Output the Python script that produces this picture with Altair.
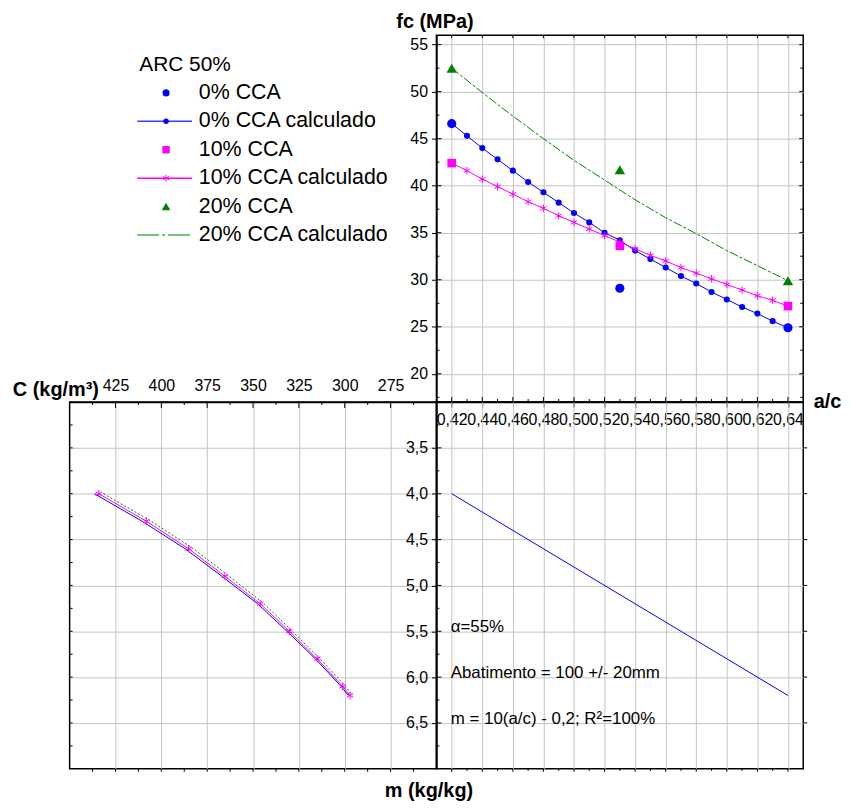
import altair as alt
import pandas as pd

FONT = "Liberation Sans"
BLUE, MAGENTA, GREEN = "#0000ff", "#ff00ff", "#008000"
GRID = "#c4c4c4"
W = H = 369
ASTERISK = "M0,-1L0,1M-0.87,-0.5L0.87,0.5M-0.87,0.5L0.87,-0.5"

# ---------------- data: fc x a/c (top-right)
ac_measured = [0.42, 0.53, 0.64]
fc_measured_0 = [46.6, 29.1, 24.9]
fc_measured_10 = [42.4, 33.6, 27.2]
fc_measured_20 = [52.5, 41.7, 29.9]

ac_calc = [0.42, 0.43, 0.44, 0.45, 0.46, 0.47, 0.48, 0.49, 0.50, 0.51, 0.52, 0.53,
           0.54, 0.55, 0.56, 0.57, 0.58, 0.59, 0.60, 0.61, 0.62, 0.63, 0.64]
fc_calc_0 = [46.6, 45.3, 44.0, 42.8, 41.6, 40.4, 39.3, 38.2, 37.1, 36.1, 35.0, 34.2,
             33.1, 32.2, 31.3, 30.4, 29.6, 28.7, 27.9, 27.1, 26.4, 25.6, 24.9]
fc_calc_10 = [42.4, 41.6, 40.7, 39.9, 39.1, 38.3, 37.6, 36.8, 36.1, 35.4, 34.7, 34.0,
              33.3, 32.6, 32.0, 31.3, 30.7, 30.1, 29.5, 28.9, 28.3, 27.8, 27.2]
ac_calc_20 = [0.42, 0.44, 0.46, 0.48, 0.50, 0.52, 0.54, 0.56, 0.58, 0.60, 0.62, 0.64]
fc_calc_20 = [52.5, 49.9, 47.4, 45.0, 42.7, 40.6, 38.5, 36.6, 34.9, 33.1, 31.5, 29.9]

# ---------------- data: m x a/c (bottom-right)
ac_line = [0.42, 0.64]
m_line = [4.0, 6.2]
notes = ["α=55%", "Abatimento = 100 +/- 20mm", "m = 10(a/c) - 0,2; R²=100%"]
notes_ac = [0.42, 0.42, 0.42]
notes_m = [5.5, 6.0, 6.5]

# ---------------- data: C x m (bottom-left)
m_curve = [4.0, 4.3, 4.6, 4.9, 5.2, 5.5, 5.8, 6.1, 6.2]
c_curve_0 = [436.5, 410.5, 387.0, 367.0, 347.5, 331.5, 316.0, 302.0, 298.0]
c_curve_10 = [434.1, 408.2, 385.1, 365.3, 346.1, 330.2, 315.0, 301.1, 297.1]
c_curve_20 = [431.5, 405.5, 382.5, 363.0, 344.0, 328.5, 313.5, 299.5, 295.8]

# ---------------- axes ticks
ac_ticks = [0.42, 0.44, 0.46, 0.48, 0.50, 0.52, 0.54, 0.56, 0.58, 0.60, 0.62, 0.64]
ac_minor = [0.43, 0.45, 0.47, 0.49, 0.51, 0.53, 0.55, 0.57, 0.59, 0.61, 0.63]
fc_ticks = [20, 25, 30, 35, 40, 45, 50, 55]
fc_minor = [17.5, 22.5, 27.5, 32.5, 37.5, 42.5, 47.5, 52.5]
m_ticks = [3.5, 4.0, 4.5, 5.0, 5.5, 6.0, 6.5]
m_minor = [3.25, 3.75, 4.25, 4.75, 5.25, 5.75, 6.25, 6.75]
c_ticks = [275, 300, 325, 350, 375, 400, 425]
c_minor = [262.5, 287.5, 312.5, 337.5, 362.5, 387.5, 412.5, 437.5]

# ---------------- legend
legend_title = "ARC 50%"
legend_labels = ["0% CCA", "0% CCA calculado", "10% CCA", "10% CCA calculado",
                 "20% CCA", "20% CCA calculado"]

AX = dict(labelFont=FONT, labelFontSize=16, labelColor="black", titleFont=FONT,
          titleFontSize=20, titleFontWeight="bold", titleColor="black",
          domainColor="black", domainWidth=1.5, tickColor="black", tickWidth=1,
          tickSize=5, gridColor=GRID, gridWidth=1, gridOpacity=1)
GRIDONLY = dict(grid=True, labels=False, ticks=False, domain=False,
                gridColor=GRID, gridWidth=1, gridOpacity=1)

ac_scale = alt.Scale(domain=[0.41, 0.65], nice=False, zero=False)
fc_scale = alt.Scale(domain=[17, 56], nice=False, zero=False)
m_scale = alt.Scale(domain=[3, 7], nice=False, zero=False, reverse=True)
c_scale = alt.Scale(domain=[250, 450], nice=False, zero=False, reverse=True)

comma2 = "replace(format(datum.value, '.2f'), '.', ',')"
comma1 = "replace(format(datum.value, '.1f'), '.', ',')"


def hticks(values, field, enc_y, x0, x1):
    return alt.Chart(pd.DataFrame({field: values})).mark_rule(
        color="black", strokeWidth=1).encode(y=enc_y, x=alt.value(x0), x2=alt.value(x1))


def vticks(values, field, enc_x, y0, y1):
    return alt.Chart(pd.DataFrame({field: values})).mark_rule(
        color="black", strokeWidth=1).encode(x=enc_x, y=alt.value(y0), y2=alt.value(y1))


# ================= top-right
x_ac_tr = alt.X("ac:Q", scale=ac_scale, axis=alt.Axis(
    orient="bottom", values=ac_ticks, grid=True, labelExpr=comma2,
    labelOverlap=False, labelFlush=False, labelPadding=5,
    title="a/c", titleAngle=0, titleX=379, titleY=6, titleAlign="left",
    titleBaseline="alphabetic", **AX))
y_fc = alt.Y("fc:Q", scale=fc_scale, axis=alt.Axis(
    orient="left", values=fc_ticks, grid=True, format="d", labelPadding=4,
    labelFlush=False, title="fc (MPa)", titleAngle=0, titleX=-2, titleY=-8,
    titleAlign="center", titleBaseline="alphabetic", **AX))

df_c0 = pd.DataFrame({"ac": ac_calc, "fc": fc_calc_0})
df_c10 = pd.DataFrame({"ac": ac_calc, "fc": fc_calc_10})
df_c20 = pd.DataFrame({"ac": ac_calc_20, "fc": fc_calc_20})
df_m0 = pd.DataFrame({"ac": ac_measured, "fc": fc_measured_0})
df_m10 = pd.DataFrame({"ac": ac_measured, "fc": fc_measured_10})
df_m20 = pd.DataFrame({"ac": ac_measured, "fc": fc_measured_20})

enc_tr = dict(x=x_ac_tr, y=y_fc)
tr = alt.layer(
    alt.Chart(df_c20).mark_line(color=GREEN, strokeWidth=1, strokeDash=[9, 2, 3, 2]).encode(**enc_tr),
    alt.Chart(df_c0).mark_line(color=BLUE, strokeWidth=1).encode(**enc_tr),
    alt.Chart(df_c0).mark_point(filled=True, shape="circle", size=38, color=BLUE, opacity=1).encode(**enc_tr),
    alt.Chart(df_c10).mark_line(color=MAGENTA, strokeWidth=1).encode(**enc_tr),
    alt.Chart(df_c10).mark_point(filled=False, shape=ASTERISK, size=55, color=MAGENTA, strokeWidth=1, opacity=1).encode(**enc_tr),
    alt.Chart(df_m0).mark_point(filled=True, shape="circle", size=85, color=BLUE, opacity=1).encode(**enc_tr),
    alt.Chart(df_m10).mark_point(filled=True, shape="square", size=75, color=MAGENTA, opacity=1).encode(**enc_tr),
    alt.Chart(df_m20).mark_point(filled=True, shape="triangle-up", size=110, color=GREEN, opacity=1).encode(**enc_tr),
    hticks(fc_ticks, "fc", y_fc, 0, 5),
    hticks(fc_minor, "fc", y_fc, 0, 3),
    hticks(fc_ticks, "fc", y_fc, W - 4, W),
    hticks(fc_minor, "fc", y_fc, W - 3, W),
    vticks(ac_ticks, "ac", x_ac_tr, H - 5, H),
    vticks(ac_minor, "ac", x_ac_tr, H - 3, H),
    vticks(ac_ticks, "ac", x_ac_tr, 0, 3),
).properties(width=W, height=H)

# ================= bottom-right
x_ac_br = alt.X("ac:Q", scale=ac_scale, axis=alt.Axis(orient="bottom", values=ac_ticks, title=None, **GRIDONLY))
y_m_br = alt.Y("m:Q", scale=m_scale, axis=alt.Axis(
    orient="left", values=m_ticks, grid=True, labelExpr=comma1, labelPadding=4,
    labelFlush=False, title="m (kg/kg)", titleAngle=0, titleX=-8, titleY=397,
    titleAlign="center", titleBaseline="alphabetic", **AX))
df_line = pd.DataFrame({"ac": ac_line, "m": m_line})
df_notes = pd.DataFrame({"ac": notes_ac, "m": notes_m, "note": notes})
br = alt.layer(
    alt.Chart(df_line).mark_line(color=BLUE, strokeWidth=1).encode(x=x_ac_br, y=y_m_br),
    alt.Chart(df_notes).mark_text(align="left", baseline="alphabetic", font=FONT, fontSize=17,
                                  dx=-1, dy=1, color="black").encode(x=x_ac_br, y=y_m_br, text="note:N"),
    hticks(m_ticks, "m", y_m_br, 0, 5),
    hticks(m_minor, "m", y_m_br, 0, 3),
    hticks(m_ticks, "m", y_m_br, W, W + 4),
    vticks(ac_ticks, "ac", x_ac_br, H, H + 3),
    vticks(ac_minor, "ac", x_ac_br, H, H + 2),
).properties(width=W, height=H)

# ================= bottom-left
x_c = alt.X("C:Q", scale=c_scale, axis=alt.Axis(
    orient="top", values=c_ticks, grid=True, format="d", labelPadding=9, ticks=False,
    labelFlush=False, labelOverlap=False, title="C (kg/m³)", titleAngle=0,
    titleX=29, titleY=-7, titleAlign="right", titleBaseline="alphabetic", **AX))
y_m_bl = alt.Y("m:Q", scale=m_scale, axis=alt.Axis(orient="left", values=m_ticks, title=None, **GRIDONLY))
df_b0 = pd.DataFrame({"m": m_curve, "C": c_curve_0})
df_b10 = pd.DataFrame({"m": m_curve, "C": c_curve_10})
df_b20 = pd.DataFrame({"m": m_curve, "C": c_curve_20})
enc_bl = dict(x=x_c, y=y_m_bl, order="m:Q")
bl = alt.layer(
    alt.Chart(df_b20).mark_line(color=GREEN, strokeWidth=1, strokeDash=[2, 2]).encode(**enc_bl),
    alt.Chart(df_b10).mark_line(color=MAGENTA, strokeWidth=1).encode(**enc_bl),
    alt.Chart(df_b0).mark_line(color=BLUE, strokeWidth=1).encode(**enc_bl),
    alt.Chart(df_b10).mark_point(filled=False, shape=ASTERISK, size=55, color=MAGENTA, strokeWidth=1, opacity=1).encode(x=x_c, y=y_m_bl),
    vticks(c_ticks, "C", x_c, -1, 6),
    vticks(c_minor, "C", x_c, 0, 3),
    vticks(c_ticks, "C", x_c, H, H + 3),
    vticks(c_minor, "C", x_c, H, H + 3),
    hticks(m_ticks, "m", y_m_bl, 0, 3),
    hticks(m_minor, "m", y_m_bl, 0, 3),
).properties(width=W, height=H)

# ================= top-left: legend
df_leg = pd.DataFrame({"label": legend_labels})
leg_y = alt.Y("label:N", scale=alt.Scale(type="point", domain=legend_labels, range=[58, 201], padding=0), axis=None)


def row(i):
    return alt.Chart(df_leg.iloc[[i]])


tl = alt.layer(
    alt.Chart(pd.DataFrame({"t": [legend_title]})).mark_text(
        align="left", baseline="alphabetic", font=FONT, fontSize=21, color="black"
    ).encode(x=alt.value(70), y=alt.value(36), text="t:N"),
    alt.Chart(df_leg).mark_text(align="left", baseline="middle", font=FONT, fontSize=21.5, color="black").encode(
        x=alt.value(130), y=leg_y, text="label:N"),
    row(0).mark_point(filled=True, shape="circle", size=50, color=BLUE, opacity=1).encode(x=alt.value(97), y=leg_y),
    row(1).mark_rule(color="#3c3cff", strokeWidth=1.5).encode(x=alt.value(68), x2=alt.value(123), y=leg_y),
    row(1).mark_point(filled=True, shape="circle", size=30, color=BLUE, opacity=1).encode(x=alt.value(97), y=leg_y),
    row(2).mark_point(filled=True, shape="square", size=55, color=MAGENTA, opacity=1).encode(x=alt.value(97), y=leg_y),
    row(3).mark_rule(color=MAGENTA, strokeWidth=1.5).encode(x=alt.value(68), x2=alt.value(123), y=leg_y),
    row(3).mark_point(filled=False, shape=ASTERISK, size=50, color=MAGENTA, strokeWidth=1, opacity=1).encode(x=alt.value(97), y=leg_y),
    row(4).mark_point(filled=True, shape="triangle-up", size=75, color=GREEN, opacity=1).encode(x=alt.value(97), y=leg_y),
    row(5).mark_rule(color="#4caf50", strokeWidth=1.5, strokeDash=[22, 3, 3, 3]).encode(x=alt.value(68), x2=alt.value(123), y=leg_y),
).properties(width=W, height=H, view=alt.ViewBackground(stroke="transparent", strokeWidth=0))

chart = alt.concat(tl, tr, bl, br, columns=2, spacing=0, bounds="flush").properties(
    padding={"left": 3, "top": 0, "right": 0, "bottom": 0}
).configure(font=FONT).configure_view(stroke="black", strokeWidth=1.5)

chart.save("out.html", embed_options={"renderer": "svg", "actions": False})
